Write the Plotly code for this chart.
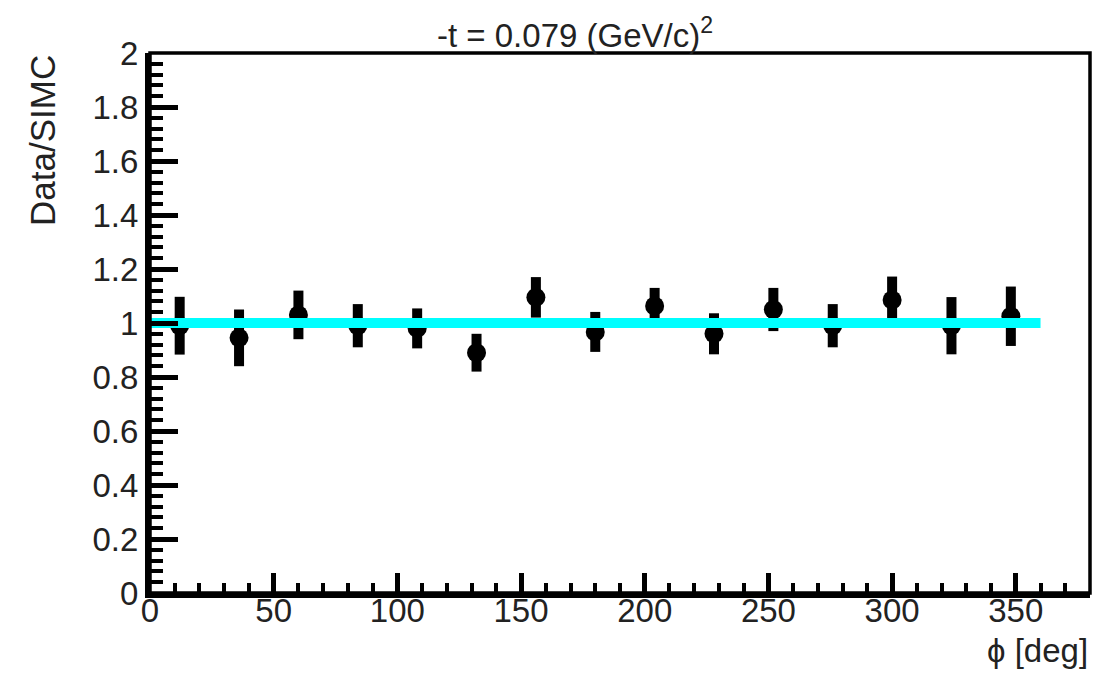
import plotly.graph_objects as go

# Data
phi = [12, 36, 60, 84, 108, 132, 156, 180, 204, 228, 252, 276, 300, 324, 348]
ratio = [0.99, 0.945, 1.03, 0.99, 0.98, 0.89, 1.095, 0.967, 1.063, 0.96, 1.05, 0.99, 1.085, 0.99, 1.025]
ratio_err = [0.107, 0.105, 0.09, 0.08, 0.074, 0.07, 0.075, 0.074, 0.067, 0.076, 0.08, 0.08, 0.087, 0.106, 0.11]
fit_x = [0, 360]
fit_y = [1.0, 1.0]

x_ticks = [0, 50, 100, 150, 200, 250, 300, 350]
y_ticks = [0, 0.2, 0.4, 0.6, 0.8, 1.0, 1.2, 1.4, 1.6, 1.8, 2.0]
y_ticktext = ["0", "0.2", "0.4", "0.6", "0.8", "1", "1.2", "1.4", "1.6", "1.8", "2"]

FONT = "Liberation Sans, Arial, Helvetica, sans-serif"

fig = go.Figure()
fig.add_trace(go.Scatter(
    x=phi, y=ratio, mode="markers",
    marker=dict(color="black", size=19, symbol="circle"),
    error_y=dict(type="data", array=ratio_err, color="black", thickness=10, width=0),
    showlegend=False,
))
fig.add_trace(go.Scatter(
    x=fit_x, y=fit_y, mode="lines",
    line=dict(color="#00FFFF", width=10),
    showlegend=False,
))

fig.update_xaxes(
    range=[0, 380], tickvals=x_ticks, ticks="inside", ticklen=20, tickwidth=5,
    tickcolor="black", showline=True, linewidth=5, linecolor="black",
    showgrid=False, zeroline=False, ticklabelstandoff=-16,
    tickfont=dict(family=FONT, size=33, color="#222"),
    minor=dict(dtick=10, ticks="inside", ticklen=10, tickwidth=4, tickcolor="black", showgrid=False),
)
fig.update_yaxes(
    range=[0, 2], tickvals=y_ticks, ticktext=y_ticktext, ticks="inside", ticklen=28, tickwidth=5,
    tickcolor="black", showline=True, linewidth=5, linecolor="black",
    showgrid=False, zeroline=False,
    tickfont=dict(family=FONT, size=33, color="#222"),
    minor=dict(dtick=0.04, ticks="inside", ticklen=13, tickwidth=4, tickcolor="black", showgrid=False),
)

fig.add_shape(type="rect", xref="paper", yref="paper", x0=0, y0=0, x1=1, y1=1,
              line=dict(color="black", width=3.5), layer="above")

fig.add_annotation(text="-t = 0.079 (GeV/c)<sup>2</sup>", xref="paper", yref="paper",
                   x=(575 - 150) / 940, y=(593 - 33) / 540, xanchor="center", yanchor="middle",
                   showarrow=False, font=dict(family=FONT, size=33, color="#222"))
fig.add_annotation(text="ϕ [deg]", xref="paper", yref="paper",
                   x=1, y=(593 - 650) / 540, xanchor="right", yanchor="middle",
                   showarrow=False, font=dict(family=FONT, size=33, color="#222"))
fig.add_annotation(text="Data/SIMC", xref="paper", yref="paper",
                   x=(42 - 150) / 940, y=(593 - 141) / 540, xanchor="center", yanchor="middle",
                   textangle=-90, showarrow=False, font=dict(family=FONT, size=35, color="#222"))

fig.update_layout(
    width=1096, height=684,
    margin=dict(l=150, r=6, t=53, b=91),
    plot_bgcolor="white", paper_bgcolor="white",
)

fig.write_html("out.html", config={"displayModeBar": False},
               post_script="document.body.style.margin='0';")
